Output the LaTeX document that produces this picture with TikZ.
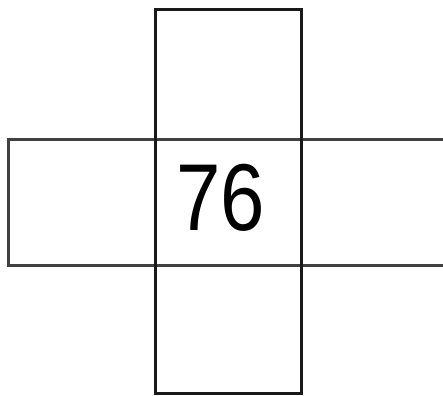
\documentclass[tikz,border=0pt]{standalone}
\usepackage{fontspec}
\setmainfont{Liberation Sans}
\begin{document}
\begin{tikzpicture}[x=1pt,y=-1pt,
  bar/.style={draw=black!75,line width=2.8pt,inner sep=0pt,fill=none},
  col/.style={draw=black!90,line width=2.8pt,inner sep=0pt,fill=none},
  num/.style={inner sep=0pt,font=\fontsize{95}{95}\selectfont,xscale=0.84}]
\useasboundingbox (0,0) rectangle (443,395);
\clip (0,0) rectangle (443,395);
\node[bar,minimum width=450pt,minimum height=126pt,anchor=north west] (h) at (7,138) {};
\node[col,minimum width=146pt,minimum height=384pt,anchor=north west] (v) at (154,8) {};
\node[num] (t) at (221,198) {76};
\end{tikzpicture}
\end{document}
